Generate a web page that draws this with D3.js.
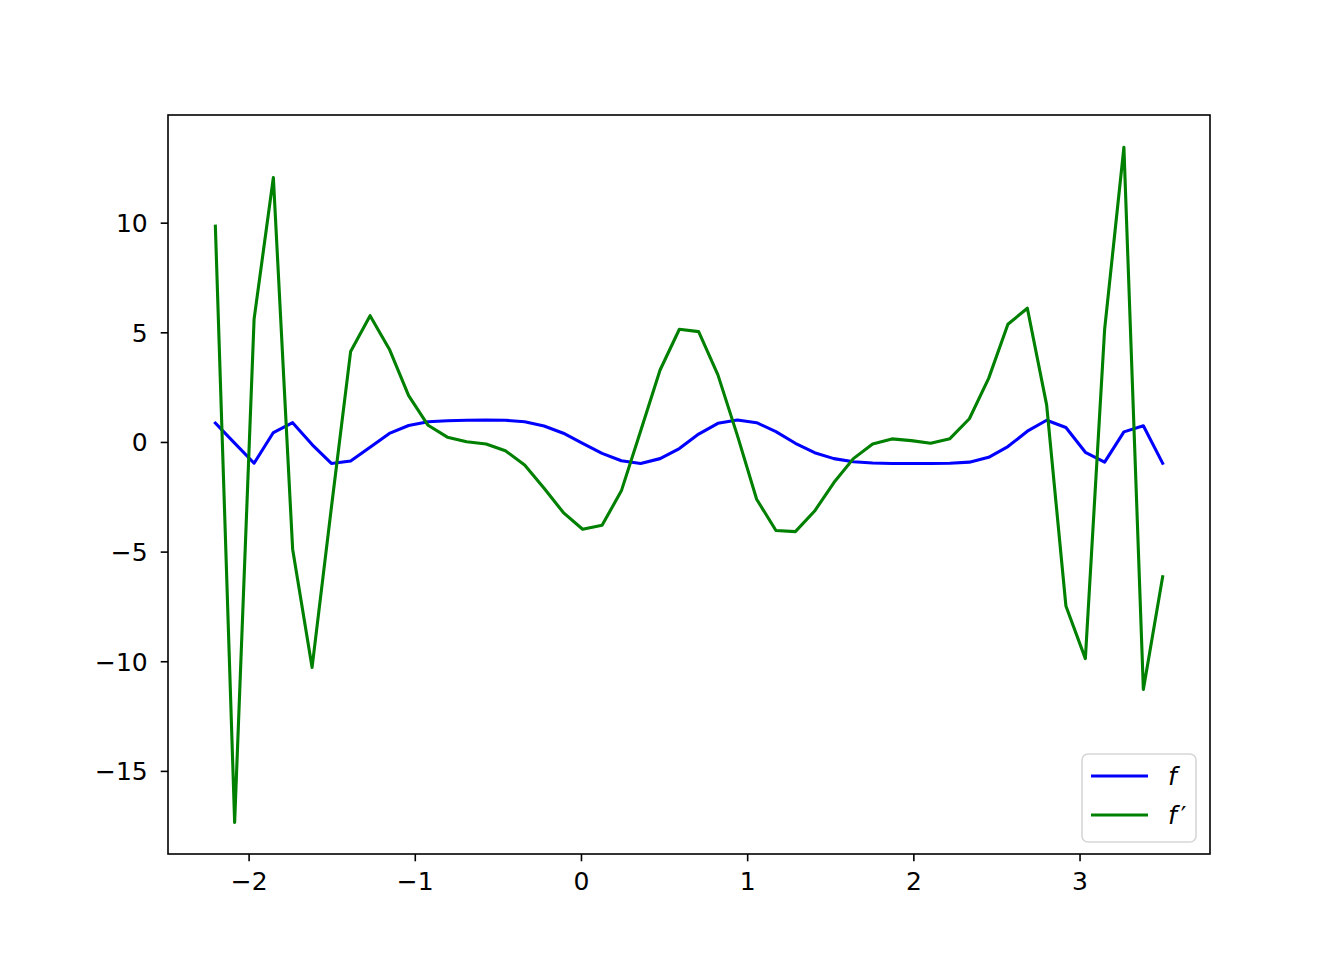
<!DOCTYPE html>
<meta charset="utf-8">
<style>
    body {
        margin: 0;
        background: #fff;
    }
    svg {
        display: block;
        font-family: "DejaVu Sans", sans-serif;
    }
    .tick-label {
        font-family: "DejaVu Sans", sans-serif;
        font-size: 25px;
        fill: #000;
    }
    .legend-label {
        font-family: "DejaVu Sans", sans-serif;
        font-size: 25px;
        font-style: italic;
    }
</style>
<body>
<div id="chart-container"></div>
<script src="https://cdnjs.cloudflare.com/ajax/libs/d3/7.8.5/d3.min.js"></script>
<script>
    // sample points on the x axis (50 of them, -2.2 to 3.5)
    var xValues = [
        -2.200, -2.084, -1.967, -1.851, -1.735, -1.618, -1.502, -1.386, -1.269, -1.153,
        -1.037, -0.920, -0.804, -0.688, -0.571, -0.455, -0.339, -0.222, -0.106, 0.010,
        0.127, 0.243, 0.359, 0.476, 0.592, 0.708, 0.824, 0.941, 1.057, 1.173,
        1.290, 1.406, 1.522, 1.639, 1.755, 1.871, 1.988, 2.104, 2.220, 2.337,
        2.453, 2.569, 2.686, 2.802, 2.918, 3.035, 3.151, 3.267, 3.384, 3.500
    ];
    // f
    var fValues = [
        0.86, -0.05, -0.97, 0.43, 0.88, -0.12, -0.98, -0.87, -0.24, 0.39,
        0.75, 0.92, 0.97, 0.99, 1.00, 0.99, 0.92, 0.73, 0.40, -0.06,
        -0.52, -0.86, -0.98, -0.76, -0.30, 0.36, 0.85, 1.00, 0.88, 0.47,
        -0.06, -0.49, -0.76, -0.90, -0.96, -0.98, -0.98, -0.98, -0.97, -0.92,
        -0.70, -0.21, 0.49, 0.99, 0.66, -0.47, -0.92, 0.46, 0.74, -0.97
    ];
    // f'
    var dfValues = [
        9.84, -17.35, 5.60, 12.06, -4.89, -10.28, -3.00, 4.13, 5.76, 4.23,
        2.11, 0.76, 0.22, 0.01, -0.09, -0.40, -1.05, -2.11, -3.22, -3.98,
        -3.80, -2.23, 0.50, 3.28, 5.14, 5.03, 3.06, 0.30, -2.61, -4.04,
        -4.09, -3.15, -1.85, -0.76, -0.09, 0.14, 0.06, -0.06, 0.15, 1.06,
        2.90, 5.37, 6.10, 1.69, -7.48, -9.88, 5.14, 13.44, -11.29, -6.15
    ];
    var xTicks = [-2, -1, 0, 1, 2, 3];
    var yTicks = [-15, -10, -5, 0, 5, 10];
    var xLim = [-2.485, 3.785];
    var yLim = [-18.79, 14.91];
    var series = [
        {name: "f", prime: false, values: fValues, color: "#0000ff"},
        {name: "f", prime: true, values: dfValues, color: "#008000"}
    ];

    var width = 1344,
        height = 960,
        margin = {left: 168, right: 134, top: 115, bottom: 106},
        plotW = width - margin.left - margin.right,
        plotH = height - margin.top - margin.bottom;

    var svg = d3.select("#chart-container").append("svg")
        .attr("width", width)
        .attr("height", height);

    var xScale = d3.scaleLinear().domain(xLim).range([0, plotW]);
    var yScale = d3.scaleLinear().domain(yLim).range([plotH, 0]);

    var plot = svg.append("g")
        .attr("transform", "translate(" + margin.left + "," + margin.top + ")");

    plot.append("clipPath").attr("id", "clip")
        .append("rect").attr("width", plotW).attr("height", plotH);

    var fmt = function(d) { return String(d).replace("-", "\u2212"); };

    // axes, matplotlib style: outward ticks, no grid
    var xAxis = d3.axisBottom(xScale)
        .tickValues(xTicks)
        .tickSize(7.3)
        .tickPadding(8)
        .tickFormat(fmt);
    var yAxis = d3.axisLeft(yScale)
        .tickValues(yTicks)
        .tickSize(7.3)
        .tickPadding(13)
        .tickFormat(fmt);

    var gX = plot.append("g")
        .attr("transform", "translate(0," + plotH + ")")
        .call(xAxis);
    var gY = plot.append("g").call(yAxis);

    [gX, gY].forEach(function(g) {
        g.attr("font-family", null).attr("font-size", null);
        g.select(".domain").remove();
        g.selectAll(".tick line").attr("stroke", "#000").attr("stroke-width", 1.6);
        g.selectAll(".tick text").attr("class", "tick-label");
    });
    gX.selectAll(".tick text").attr("dy", "0.82em");
    gY.selectAll(".tick text").attr("dy", "0.36em");

    // lines
    var line = function(vals) {
        return d3.line()
            .x(function(d, i) { return xScale(xValues[i]); })
            .y(function(d) { return yScale(d); })(vals);
    };
    plot.append("g").attr("clip-path", "url(#clip)")
        .selectAll("path")
        .data(series)
        .enter().append("path")
        .attr("d", function(d) { return line(d.values); })
        .attr("fill", "none")
        .attr("stroke", function(d) { return d.color; })
        .attr("stroke-width", 3.1)
        .attr("stroke-linejoin", "round")
        .attr("stroke-linecap", "square");

    // frame
    plot.append("rect")
        .attr("width", plotW)
        .attr("height", plotH)
        .attr("fill", "none")
        .attr("stroke", "#000")
        .attr("stroke-width", 1.6);

    // legend in the lower right
    var legend = svg.append("g").attr("transform", "translate(1082,754)");
    legend.append("rect")
        .attr("width", 114)
        .attr("height", 88)
        .attr("rx", 6)
        .attr("fill", "#fff")
        .attr("fill-opacity", 0.8)
        .attr("stroke", "#d6d6d6")
        .attr("stroke-width", 1.6);
    var item = legend.selectAll(".item")
        .data(series)
        .enter().append("g")
        .attr("class", "item")
        .attr("transform", function(d, i) { return "translate(0," + (22 + i * 39) + ")"; });
    item.append("line")
        .attr("x1", 9).attr("x2", 66)
        .attr("stroke", function(d) { return d.color; })
        .attr("stroke-width", 3.1);
    var label = item.append("text")
        .attr("class", "legend-label")
        .attr("x", 86)
        .attr("y", 9)
        .text(function(d) { return d.name; });
    label.filter(function(d) { return d.prime; })
        .append("tspan")
        .attr("dx", 4)
        .attr("font-style", "normal")
        .text("\u2032");
</script>
</body>
